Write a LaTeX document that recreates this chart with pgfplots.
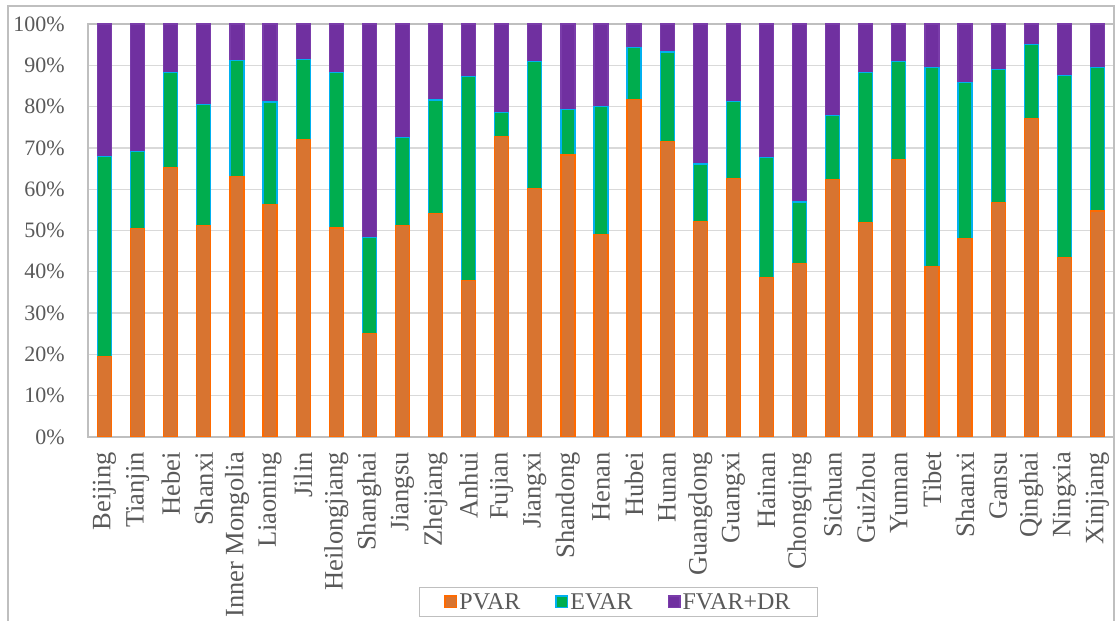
\documentclass[border=0pt]{standalone}
\usepackage{pgfplots}
\pgfplotsset{compat=1.18}
\usepackage{pgfplotstable}
\usepackage{fontspec}
\setmainfont{Liberation Serif}

\definecolor{txtgray}{HTML}{595959}
\definecolor{gridgray}{HTML}{D9D9D9}
\definecolor{framegray}{HTML}{BFBFBF}
\definecolor{pvarfill}{HTML}{D87430}
\definecolor{pvarline}{HTML}{FF6A00}
\definecolor{evarfill}{HTML}{00AD4E}
\definecolor{evarline}{HTML}{00B0F0}
\definecolor{fvarfill}{HTML}{7030A0}
\definecolor{fvarline}{HTML}{7A3CAA}

% Shares (%) of PVAR, EVAR and FVAR+DR by province
\pgfplotstableread{
idx P    E    F
0   19.5 48.5 32.0
1   50.4 18.8 30.8
2   65.3 23.0 11.7
3   51.3 29.3 19.4
4   63.0 28.2 8.8
5   56.2 24.9 18.9
6   72.1 19.4 8.5
7   50.6 37.7 11.7
8   25.0 23.3 51.7
9   51.2 21.3 27.5
10  54.1 27.5 18.4
11  37.8 49.4 12.8
12  72.7 5.9  21.4
13  60.2 30.7 9.1
14  68.3 10.9 20.8
15  49.1 30.9 20.0
16  81.8 12.6 5.6
17  71.6 21.6 6.8
18  52.2 13.9 33.9
19  62.5 18.8 18.7
20  38.7 29.0 32.3
21  42.0 14.9 43.1
22  62.4 15.5 22.1
23  52.0 36.3 11.7
24  67.2 23.8 9.0
25  41.2 48.2 10.6
26  48.1 37.8 14.1
27  56.8 32.2 11.0
28  77.1 18.0 4.9
29  43.4 44.2 12.4
30  54.7 34.7 10.6
}\shares

\pgfplotsset{
  sqlegend/.style 2 args={legend image code/.code={%
      \path[draw=#2, fill=#1, line width=1.2pt]
        (0.6pt,-5.9pt) rectangle (12.4pt,5.9pt);}},
}

\begin{document}
\begin{tikzpicture}
\begin{axis}[
  at={(88pt,184pt)}, anchor=south west,
  scale only axis, width=1026pt, height=413pt,
  ybar stacked, bar width=14pt,
  xmin=-0.5, xmax=30.5, ymin=0, ymax=100,
  xtick={0,...,30},
  xticklabels={Beijing,Tianjin,Hebei,Shanxi,Inner Mongolia,Liaoning,Jilin,
    Heilongjiang,Shanghai,Jiangsu,Zhejiang,Anhui,Fujian,Jiangxi,Shandong,
    Henan,Hubei,Hunan,Guangdong,Guangxi,Hainan,Chongqing,Sichuan,Guizhou,
    Yunnan,Tibet,Shaanxi,Gansu,Qinghai,Ningxia,Xinjiang},
  ytick={0,10,...,100},
  yticklabels={0\%,10\%,20\%,30\%,40\%,50\%,60\%,70\%,80\%,90\%,100\%},
  major tick length=0pt,
  ymajorgrids, grid style={gridgray, line width=1.3pt},
  axis line style={framegray, line width=1.3pt},
  tick label style={text=txtgray},
  xticklabel style={rotate=90, anchor=east, inner sep=0pt,
    font=\fontsize{26.5}{30}\selectfont},
  xticklabel shift=15pt,
  yticklabel style={anchor=east, inner sep=0pt,
    font=\fontsize{22}{26}\selectfont},
  yticklabel shift=23pt,
  legend columns=3,
  legend style={at={(axis description cs:0.517,-0.3995)}, anchor=center,
    draw=framegray, line width=1.2pt, text=txtgray,
    font=\fontsize{24}{28}\selectfont,
    inner xsep=25pt, inner ysep=5pt,
    nodes={inner xsep=2pt, inner ysep=1pt},
    /tikz/every even column/.append style={column sep=33pt}},
]
\addplot[fill=pvarfill, draw=pvarline, line width=1.2pt,
  sqlegend={pvarfill}{pvarline}]
  table[x=idx, y=P] {\shares};
\addplot[fill=evarfill, draw=evarline, line width=1.2pt,
  sqlegend={evarfill}{evarline}]
  table[x=idx, y=E] {\shares};
\addplot[fill=fvarfill, draw=fvarline, line width=1.2pt,
  sqlegend={fvarfill}{fvarline}]
  table[x=idx, y=F] {\shares};
\legend{PVAR, EVAR, FVAR+DR}
\end{axis}
% chart frame (bottom edge lies below the page)
\draw[framegray, line width=2pt]
  (7.5pt,-20pt) -- (7.5pt,615pt) -- (1114pt,615pt) -- (1114pt,-20pt);
\pgfresetboundingbox
\useasboundingbox (0,0) rectangle (1117pt,621pt);
\end{tikzpicture}
\end{document}
